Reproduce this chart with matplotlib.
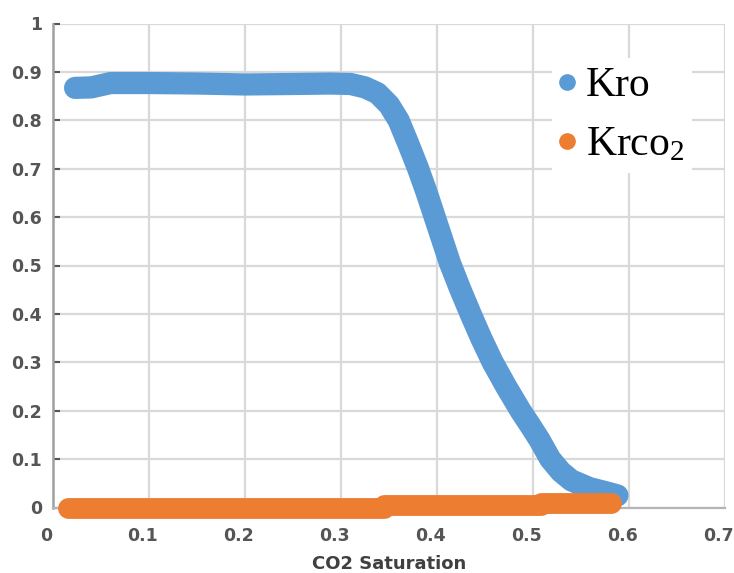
import matplotlib
matplotlib.use("Agg")
import matplotlib.pyplot as plt
from matplotlib.lines import Line2D
from matplotlib.transforms import ScaledTranslation

plt.rcParams['mathtext.fontset'] = 'custom'
plt.rcParams['mathtext.rm'] = 'Liberation Serif'
plt.rcParams['mathtext.default'] = 'rm'

# ---- data ----
sat_o = [0.023, 0.040, 0.060, 0.100, 0.150, 0.200, 0.250, 0.289, 0.310, 0.325,
         0.338, 0.350, 0.360, 0.370, 0.380, 0.389, 0.397, 0.405, 0.4135, 0.424,
         0.435, 0.446, 0.458, 0.472, 0.487, 0.497, 0.507, 0.518, 0.529, 0.540,
         0.559, 0.575, 0.588]
kro = [0.867, 0.868, 0.877, 0.877, 0.876, 0.874, 0.875, 0.876, 0.875, 0.868,
       0.856, 0.832, 0.800, 0.752, 0.702, 0.652, 0.604, 0.556, 0.505, 0.452,
       0.400, 0.350, 0.300, 0.250, 0.200, 0.170, 0.139, 0.100, 0.074, 0.056,
       0.040, 0.032, 0.025]

sat_g = [0.016, 0.345, 0.345, 0.508, 0.508, 0.581]
krco2 = [0.000, 0.000, 0.005, 0.005, 0.009, 0.009]

xticks = [0, 0.1, 0.2, 0.3, 0.4, 0.5, 0.6, 0.7]
xtick_labels = ['0', '0.1', '0.2', '0.3', '0.4', '0.5', '0.6', '0.7']
yticks = [0, 0.1, 0.2, 0.3, 0.4, 0.5, 0.6, 0.7, 0.8, 0.9, 1.0]
ytick_labels = ['0', '0.1', '0.2', '0.3', '0.4', '0.5', '0.6', '0.7', '0.8', '0.9', '1']

legend_labels = ['Kro', 'Krco$_2$']
blue = '#5B9BD5'
orange = '#ED7D31'

fig = plt.figure(figsize=(7.34, 5.73), dpi=100)
ax = fig.add_axes([53 / 734, 65.5 / 573, 672 / 734, 484 / 573])

ax.plot(sat_o, kro, color=blue, lw=16, solid_capstyle='round',
        solid_joinstyle='round', clip_on=False, zorder=3)
ax.plot(sat_g, krco2, color=orange, lw=15, solid_capstyle='round',
        solid_joinstyle='round', clip_on=False, zorder=4)

ax.set_xlim(0, 0.7)
ax.set_ylim(0, 1)
ax.set_xticks(xticks, xtick_labels)
ax.set_yticks(yticks, ytick_labels)

ax.grid(True, color='#d9d9d9', lw=1.6, zorder=0)
ax.set_axisbelow(True)

for s in ['top', 'right']:
    ax.spines[s].set_visible(False)
ax.spines['left'].set_color('#a0a0a0')
ax.spines['left'].set_linewidth(1.8)
ax.spines['bottom'].set_color('#b5b5b5')
ax.spines['bottom'].set_linewidth(1.6)

ax.tick_params(axis='x', length=0, pad=14, labelcolor='#555555')
ax.tick_params(axis='y', direction='in', length=5, width=1.5, color='#555555',
               pad=8, labelcolor='#555555')
for lab in ax.get_xticklabels() + ax.get_yticklabels():
    lab.set_fontfamily('DejaVu Sans')
    lab.set_fontweight('bold')
    lab.set_fontsize(12.5)
off = ScaledTranslation(-7 / 100, 0, fig.dpi_scale_trans)
for lab in ax.get_xticklabels():
    lab.set_transform(lab.get_transform() + off)

ax.set_xlabel('CO2 Saturation', fontfamily='DejaVu Sans', fontweight='bold',
              fontsize=13, color='#404040', labelpad=7)

handles = [Line2D([], [], color=blue, marker='o', linestyle='none', markersize=11),
           Line2D([], [], color=orange, marker='o', linestyle='none', markersize=11)]
leg = ax.legend(handles, legend_labels, loc='upper left',
                bbox_to_anchor=(0.743, 0.928), borderaxespad=0,
                prop=dict(family='Liberation Serif', size=30),
                frameon=True, fancybox=False, framealpha=1, edgecolor='none',
                facecolor='white', handlelength=0.3, handletextpad=0.3,
                borderpad=0.2, labelspacing=0.5)
leg.set_zorder(5)

fig.savefig('out.png', dpi=100)
